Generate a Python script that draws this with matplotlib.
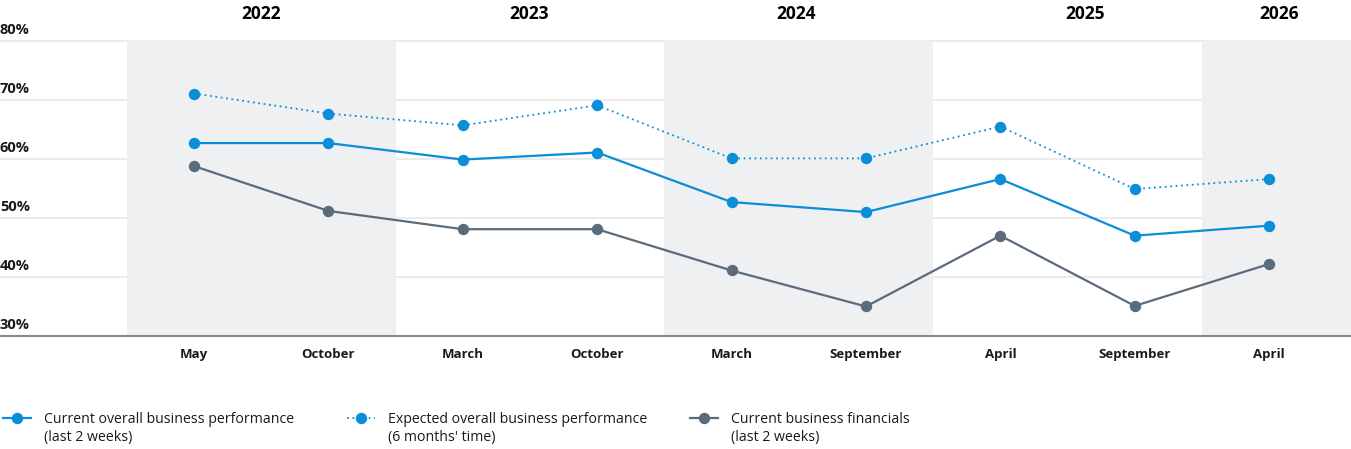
import matplotlib.pyplot as plt
from matplotlib.lines import Line2D
import matplotlib.transforms as mtransforms

# Data
months = ['May', 'October', 'March', 'October', 'March', 'September', 'April', 'September', 'April']
years = ['2022', '2023', '2024', '2025', '2026']
current_perf = [62.7, 62.7, 59.9, 61.1, 52.7, 51.0, 56.6, 47.0, 48.7]
expected_perf = [71.1, 67.7, 65.7, 69.1, 60.1, 60.1, 65.5, 54.9, 56.6]
current_fin = [58.8, 51.2, 48.1, 48.1, 41.1, 35.0, 47.0, 35.1, 42.2]
y_ticks = [30, 40, 50, 60, 70, 80]

blue = '#0A8ED8'
grey = '#5C6B7B'
band = '#EEF0F2'
txt = '#1A1A1A'

plt.rcParams['font.family'] = ['Open Sans', 'DejaVu Sans']

fig = plt.figure(figsize=(13.51, 4.49), dpi=100)
ax = fig.add_axes([0, 0.2517, 1, 0.6570])

x = list(range(len(months)))
xmin, xmax = -1.443, 8.609
ax.set_xlim(xmin, xmax)
ax.set_ylim(30, 80)

# alternating year bands
band_edges = [(-0.5, 1.5), (3.5, 5.5), (7.5, xmax)]
for a, b in band_edges:
    ax.axvspan(a, b, color=band, zorder=1, lw=0)

for t in y_ticks[1:]:
    ax.axhline(t, color='#E8E8E8', lw=1.2, zorder=0.5, clip_on=False)

ax.plot(x, current_perf, color=blue, lw=1.6, marker='o', ms=7.2, zorder=4)
ax.plot(x, expected_perf, color=blue, lw=1.3, ls=(0, (1, 2)), marker='o', ms=7.2, zorder=4)
ax.plot(x, current_fin, color=grey, lw=1.6, marker='o', ms=7.2, zorder=3)

for s in ['top', 'left', 'right']:
    ax.spines[s].set_visible(False)
ax.spines['bottom'].set_color('#8A8A8A')
ax.spines['bottom'].set_linewidth(1.5)
ax.spines['bottom'].set_zorder(5)

ax.set_yticks([])
ax.set_xticks(x)
ax.set_xticklabels(months, fontsize=9.5, fontweight='bold', color=txt)
ax.tick_params(axis='x', length=0, pad=9)

# y labels sitting above gridlines at left edge
trans = mtransforms.blended_transform_factory(ax.transAxes, ax.transData)
offset = mtransforms.offset_copy(trans, fig=fig, x=0, y=3, units='points')
for t in y_ticks:
    ax.text(0.0, t, f'{t}%', transform=offset, ha='left', va='bottom',
            fontsize=10.5, fontweight='bold', color=txt)

# year labels on top
year_pos = [0.5, 2.49, 4.48, 6.63, 8.07]
ytrans = mtransforms.blended_transform_factory(ax.transData, fig.transFigure)
for xp, yr in zip(year_pos, years):
    ax.text(xp, 1 - 14 / 449, yr, transform=ytrans, ha='center', va='center',
            fontsize=12.5, fontweight='bold', color='#000000')

# legend: handle next to first line, second line added underneath
handles = [
    Line2D([], [], color=blue, lw=1.6, marker='o', ms=7.2),
    Line2D([], [], color=blue, lw=1.3, ls=(0, (1, 2)), marker='o', ms=7.2),
    Line2D([], [], color=grey, lw=1.6, marker='o', ms=7.2),
]
labels = [
    'Current overall business performance',
    'Expected overall business performance',
    'Current business financials',
]
sub_labels = ['(last 2 weeks)', '(6 months\' time)', '(last 2 weeks)']
legend_x = [0, 344, 687]
legends = []
for h, lab, lx in zip(handles, labels, legend_x):
    leg = fig.legend([h], [lab], loc='upper left', bbox_to_anchor=(lx / 1351, 0.089),
                     frameon=False, handlelength=2.0, handletextpad=0.9,
                     borderaxespad=0, borderpad=0.2,
                     prop={'size': 10.2})
    leg.get_texts()[0].set_color(txt)
    legends.append(leg)

fig.canvas.draw()
for leg, sub in zip(legends, sub_labels):
    bb = leg.get_texts()[0].get_window_extent()
    fig.text(bb.x0 / fig.bbox.width, 1 - 438 / 449, sub, ha='left', va='center',
             fontsize=10.2, color=txt)

fig.savefig('out.png', dpi=100)
